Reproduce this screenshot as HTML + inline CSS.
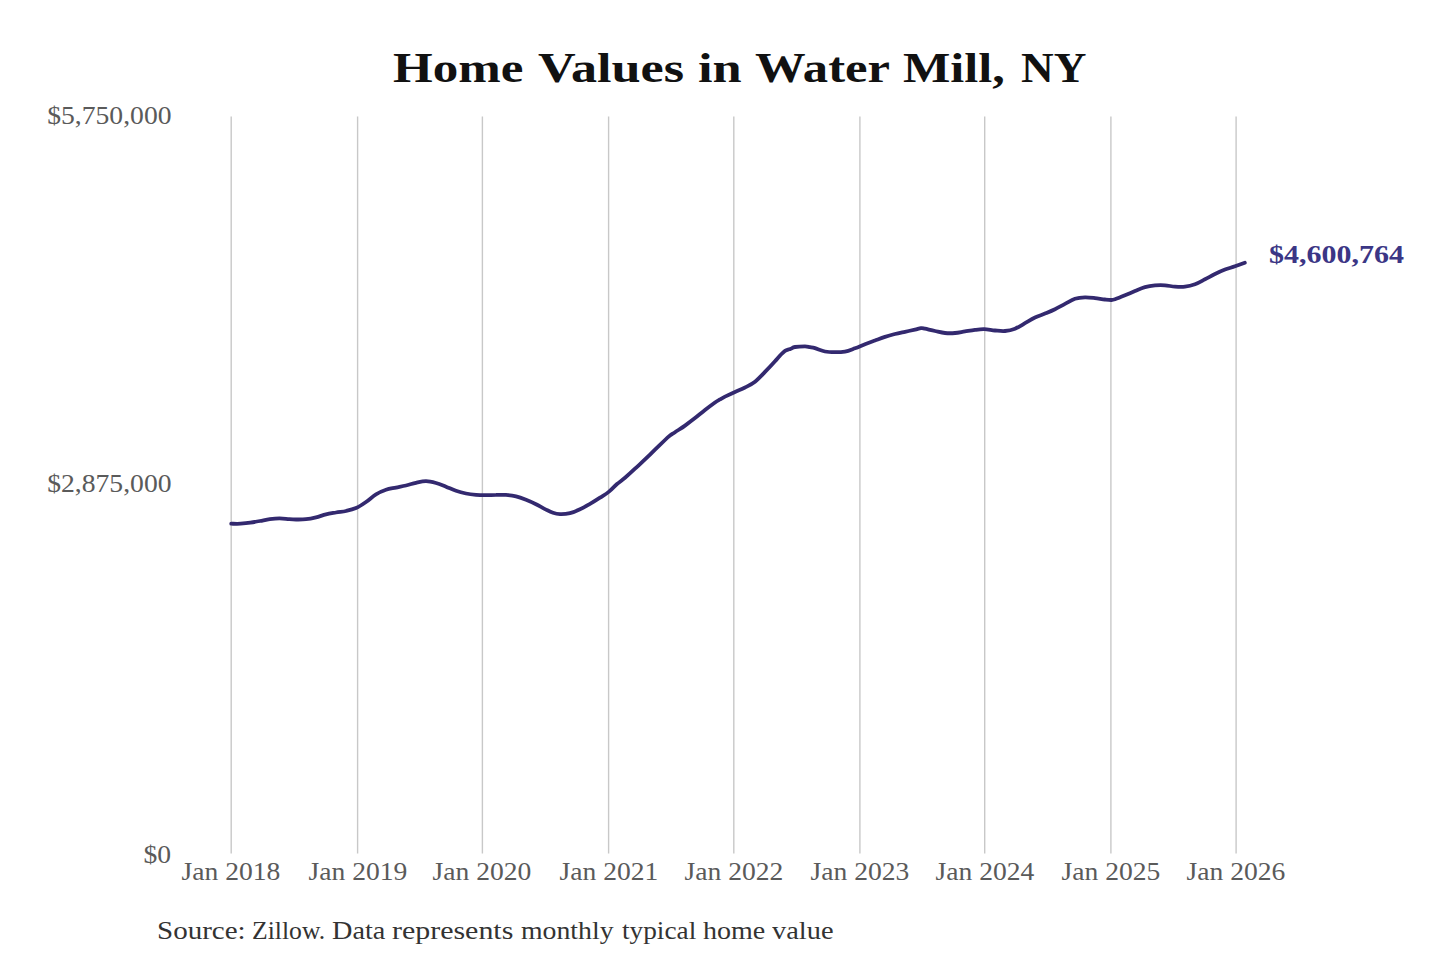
<!DOCTYPE html>
<html><head><meta charset="utf-8"><style>
html,body{margin:0;padding:0;background:#fff;}
body{width:1440px;height:960px;position:relative;overflow:hidden;font-family:"Liberation Serif",serif;}
.t{position:absolute;white-space:nowrap;transform-origin:0 0;}
.yl{position:absolute;right:1268.7px;font-size:25px;color:#5a5a5a;line-height:30px;white-space:nowrap;text-align:right;transform-origin:100% 0;transform:scaleX(1.105);}
.xl{position:absolute;width:200px;text-align:center;top:855.5px;font-size:25.3px;color:#5a5a5a;line-height:30px;white-space:nowrap;transform:scaleX(1.09);}
#val{left:1269px;top:239.5px;font-size:24.5px;font-weight:bold;color:#3b3685;line-height:30px;transform:scaleX(1.225);}
svg{position:absolute;left:0;top:0;}
.tw{position:absolute;white-space:nowrap;transform-origin:0 0;font-size:43.2px;font-weight:bold;color:#111;line-height:1;}
.sw{position:absolute;white-space:nowrap;transform-origin:0 0;font-size:25.7px;color:#333;line-height:1;}
</style></head><body>
<svg width="1440" height="960" viewBox="0 0 1440 960">
<g stroke="#c8c8c8" stroke-width="1.4" fill="none"><line x1="231.2" y1="116.5" x2="231.2" y2="853.5" /><line x1="357.6" y1="116.5" x2="357.6" y2="853.5" /><line x1="482.4" y1="116.5" x2="482.4" y2="853.5" /><line x1="608.6" y1="116.5" x2="608.6" y2="853.5" /><line x1="733.8" y1="116.5" x2="733.8" y2="853.5" /><line x1="859.9" y1="116.5" x2="859.9" y2="853.5" /><line x1="984.7" y1="116.5" x2="984.7" y2="853.5" /><line x1="1110.9" y1="116.5" x2="1110.9" y2="853.5" /><line x1="1236.1" y1="116.5" x2="1236.1" y2="853.5" /></g>
<path d="M231.2,523.7C232.8,523.7 237.4,523.9 240.6,523.7C243.8,523.5 247.1,523.2 250.3,522.7C253.5,522.2 256.8,521.6 260.0,521.0C263.2,520.4 266.6,519.5 269.8,519.1C273.1,518.7 276.3,518.4 279.5,518.4C282.7,518.4 286.4,519.0 289.2,519.2C291.9,519.4 293.2,519.5 296.0,519.5C298.8,519.5 302.7,519.6 306.0,519.2C309.3,518.9 312.7,518.2 316.0,517.4C319.3,516.6 322.7,515.2 326.0,514.4C329.3,513.6 332.7,513.1 336.0,512.5C339.3,511.9 342.7,511.7 346.0,511.0C349.3,510.3 352.7,509.6 356.0,508.1C359.3,506.6 362.7,504.3 366.0,502.0C369.3,499.7 372.7,496.4 376.0,494.4C379.3,492.3 382.7,490.8 386.0,489.7C389.3,488.6 392.7,488.3 396.0,487.6C399.3,486.9 402.7,486.3 406.0,485.5C409.3,484.7 412.7,483.5 416.0,482.8C419.3,482.1 422.7,481.2 426.0,481.2C429.3,481.2 432.7,482.1 436.0,483.0C439.3,483.9 442.7,485.4 446.0,486.7C449.3,488.0 452.7,489.7 456.0,490.8C459.3,491.9 462.7,492.8 466.0,493.5C469.3,494.2 472.7,494.6 476.0,494.9C479.3,495.2 482.7,495.2 486.0,495.2C489.3,495.2 492.7,494.9 496.0,494.9C499.3,494.8 502.7,494.7 506.0,494.9C509.3,495.1 512.7,495.5 516.0,496.3C519.3,497.1 522.7,498.4 526.0,499.7C529.3,501.0 532.7,502.5 536.0,504.2C539.3,505.9 543.2,508.2 546.0,509.6C548.8,511.0 550.7,512.0 553.0,512.8C555.3,513.6 557.2,514.1 560.0,514.2C562.8,514.3 566.7,514.0 570.0,513.2C573.3,512.4 576.7,510.9 580.0,509.3C583.3,507.8 586.7,505.8 590.0,503.9C593.3,502.0 596.8,499.8 600.0,497.7C603.2,495.6 606.2,493.9 609.0,491.6C611.8,489.3 614.3,486.3 617.0,484.0C619.7,481.7 622.0,480.4 625.0,477.8C628.0,475.2 631.7,471.8 635.0,468.7C638.3,465.6 641.7,462.6 645.0,459.4C648.3,456.2 651.7,452.9 655.0,449.7C658.3,446.5 662.5,442.4 665.0,440.0C667.5,437.6 668.3,436.9 670.0,435.6C671.7,434.3 672.5,433.9 675.0,432.2C677.5,430.5 681.7,428.0 685.0,425.6C688.3,423.2 691.7,420.7 695.0,418.1C698.3,415.5 701.7,412.6 705.0,410.0C708.3,407.4 712.5,404.3 715.0,402.5C717.5,400.7 718.3,400.4 720.0,399.4C721.7,398.4 722.5,397.9 725.0,396.6C727.5,395.4 731.7,393.4 735.0,391.9C738.3,390.4 741.7,389.2 745.0,387.5C748.3,385.8 751.7,384.3 755.0,381.7C758.3,379.1 761.7,375.3 765.0,371.9C768.3,368.5 772.5,364.0 775.0,361.2C777.5,358.5 778.3,357.3 780.0,355.6C781.7,353.9 783.3,352.0 785.0,350.9C786.7,349.8 788.3,349.8 790.0,349.1C791.7,348.5 792.5,347.4 795.0,347.0C797.5,346.6 802.5,346.4 805.0,346.4C807.5,346.4 808.3,346.9 810.0,347.2C811.7,347.5 812.5,347.5 815.0,348.2C817.5,348.9 821.7,350.8 825.0,351.5C828.3,352.2 831.7,352.2 835.0,352.2C838.3,352.2 841.7,352.2 845.0,351.6C848.3,351.0 851.7,349.5 855.0,348.3C858.3,347.1 861.7,345.5 865.0,344.2C868.3,342.9 871.7,341.7 875.0,340.5C878.3,339.3 881.7,338.0 885.0,336.9C888.3,335.8 891.7,334.9 895.0,334.0C898.3,333.1 901.7,332.5 905.0,331.8C908.3,331.1 912.3,330.2 915.0,329.6C917.7,329.0 919.3,328.4 921.0,328.2C922.7,328.0 922.7,328.2 925.0,328.7C927.3,329.2 931.7,330.3 935.0,331.0C938.3,331.7 941.7,332.7 945.0,333.0C948.3,333.3 951.7,333.3 955.0,333.0C958.3,332.7 961.7,331.9 965.0,331.4C968.3,330.9 971.8,330.3 975.0,329.9C978.2,329.5 980.9,329.1 984.2,329.2C987.5,329.3 991.5,330.2 995.0,330.5C998.5,330.8 1001.7,331.3 1005.0,331.0C1008.3,330.7 1011.7,330.0 1015.0,328.7C1018.3,327.4 1021.7,325.1 1025.0,323.2C1028.3,321.3 1031.7,319.1 1035.0,317.5C1038.3,315.9 1041.7,315.0 1045.0,313.6C1048.3,312.2 1051.7,310.8 1055.0,309.2C1058.3,307.6 1061.7,305.6 1065.0,303.9C1068.3,302.2 1071.7,299.9 1075.0,298.8C1078.3,297.7 1081.7,297.4 1085.0,297.3C1088.3,297.2 1091.7,297.7 1095.0,298.1C1098.3,298.5 1102.3,299.2 1105.0,299.5C1107.7,299.8 1109.3,300.0 1111.0,300.0C1112.7,300.0 1112.7,300.1 1115.0,299.3C1117.3,298.5 1121.7,296.7 1125.0,295.3C1128.3,293.9 1131.7,292.4 1135.0,291.0C1138.3,289.6 1141.7,288.0 1145.0,287.1C1148.3,286.2 1151.7,285.7 1155.0,285.4C1158.3,285.1 1161.7,285.1 1165.0,285.3C1168.3,285.5 1171.7,286.5 1175.0,286.7C1178.3,286.9 1181.7,287.1 1185.0,286.7C1188.3,286.3 1191.7,285.5 1195.0,284.3C1198.3,283.1 1201.7,281.0 1205.0,279.3C1208.3,277.6 1211.7,275.6 1215.0,274.0C1218.3,272.4 1221.7,270.9 1225.0,269.6C1228.3,268.3 1231.7,267.5 1235.0,266.3C1238.3,265.1 1243.2,263.3 1244.8,262.7" fill="none" stroke="#33296f" stroke-width="3.8" stroke-linecap="round" stroke-linejoin="round"/>
</svg>
<div class="tw" style="left:392.57px;top:46.20px;transform:scaleX(1.1812)">Home</div><div class="tw" style="left:537.50px;top:46.20px;transform:scaleX(1.2083)">Values</div><div class="tw" style="left:697.54px;top:46.20px;transform:scaleX(1.2143)">in</div><div class="tw" style="left:755.08px;top:46.20px;transform:scaleX(1.1726)">Water</div><div class="tw" style="left:902.59px;top:46.20px;transform:scaleX(1.1618)">Mill,</div><div class="tw" style="left:1021.15px;top:46.20px;transform:scaleX(1.0475)">NY</div>
<div class="yl" style="top:101px">$5,750,000</div>
<div class="yl" style="top:469px">$2,875,000</div>
<div class="yl" style="top:840px">$0</div>
<div class="xl" style="left:131.2px">Jan 2018</div><div class="xl" style="left:257.6px">Jan 2019</div><div class="xl" style="left:382.4px">Jan 2020</div><div class="xl" style="left:508.6px">Jan 2021</div><div class="xl" style="left:633.8px">Jan 2022</div><div class="xl" style="left:759.9px">Jan 2023</div><div class="xl" style="left:884.7px">Jan 2024</div><div class="xl" style="left:1010.9px">Jan 2025</div><div class="xl" style="left:1136.1px">Jan 2026</div>
<div class="t" id="val">$4,600,764</div>
<div class="sw" style="left:157.44px;top:918.00px;transform:scaleX(1.1297)">Source:</div><div class="sw" style="left:252.30px;top:918.00px;transform:scaleX(0.9986)">Zillow.</div><div class="sw" style="left:332.20px;top:918.00px;transform:scaleX(1.1000)">Data</div><div class="sw" style="left:392.13px;top:918.00px;transform:scaleX(1.1650)">represents</div><div class="sw" style="left:521.42px;top:918.00px;transform:scaleX(1.0810)">monthly</div><div class="sw" style="left:621.70px;top:918.00px;transform:scaleX(1.0623)">typical</div><div class="sw" style="left:703.11px;top:918.00px;transform:scaleX(1.0909)">home</div><div class="sw" style="left:771.70px;top:918.00px;transform:scaleX(1.1055)">value</div>
</body></html>
